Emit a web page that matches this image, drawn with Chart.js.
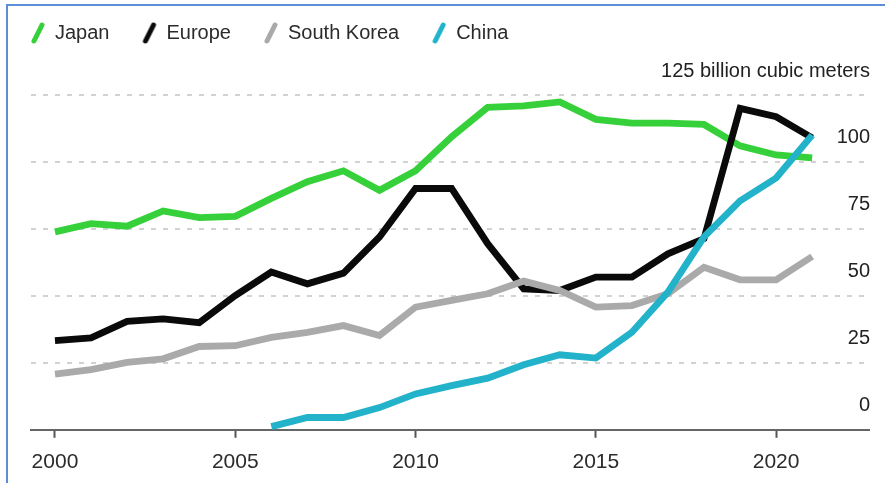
<!DOCTYPE html>
<html>
<head>
<meta charset="utf-8">
<script src="https://cdn.jsdelivr.net/npm/chart.js@4.4.1/dist/chart.umd.min.js"></script>
<style>
  html, body { margin: 0; padding: 0; background: #fff; }
  #wrap { position: relative; width: 885px; height: 483px; overflow: hidden; background: #fff; }
  #frame { position: absolute; left: 6px; top: 4px; width: 900px; height: 500px;
           border-left: 2px solid #5b8ed6; border-top: 2px solid #5b8ed6; pointer-events: none; }
  canvas { display: block; }
</style>
</head>
<body>
<div id="wrap">
  <canvas id="lng" width="885" height="483"></canvas>
  <div id="frame"></div>
</div>
<script>
// LNG imports, billion cubic meters per year
const years = [2000, 2001, 2002, 2003, 2004, 2005, 2006, 2007, 2008, 2009, 2010,
               2011, 2012, 2013, 2014, 2015, 2016, 2017, 2018, 2019, 2020, 2021];

const japan = [73.9, 77.0, 76.0, 81.7, 79.2, 79.7, 86.4, 92.6, 96.7, 89.4, 96.7,
               109.4, 120.4, 120.9, 122.4, 115.9, 114.5, 114.5, 114.0, 106.0, 102.6, 101.5];

const europe = [33.3, 34.3, 40.5, 41.4, 40.0, 50.1, 58.9, 54.5, 58.5, 72.0, 90.1,
                90.1, 69.5, 52.6, 52.0, 57.0, 57.0, 65.7, 71.4, 120.0, 116.9, 109.0];

const southKorea = [20.8, 22.5, 25.2, 26.5, 31.1, 31.4, 34.5, 36.4, 38.9, 35.2, 45.8,
                    48.3, 50.8, 55.5, 52.0, 45.8, 46.4, 50.8, 60.7, 56.0, 56.0, 64.7];

const china = [null, null, null, null, null, null, 1.2, 4.6, 4.6, 8.3, 13.4,
               16.5, 19.3, 24.3, 28.0, 26.8, 36.4, 51.4, 72.0, 85.5, 94.0, 110.0];

const seriesNames = ['Japan', 'Europe', 'South Korea', 'China'];
const seriesColors = ['#36d13a', '#0a0a0a', '#aaaaaa', '#22b2c9'];

const xTickYears = [2000, 2005, 2010, 2015, 2020];
const yTickValues = [0, 25, 50, 75, 100, 125];
const yUnitLabel = '125 billion cubic meters';

const FONT = "'Liberation Sans', Arial, sans-serif";

// slanted stroke used as the legend marker
function strokeMarker(color) {
  const c = document.createElement('canvas');
  c.width = 16; c.height = 24;
  const g = c.getContext('2d');
  g.strokeStyle = color;
  g.lineWidth = 5;
  g.lineCap = 'round';
  g.beginPath();
  g.moveTo(4, 20);
  g.lineTo(12, 4);
  g.stroke();
  return c;
}

const seriesValues = [japan, europe, southKorea, china];
const datasets = seriesNames.map((name, i) => ({
  label: name,
  data: years.map((yr, k) => ({ x: yr, y: seriesValues[i][k] })),
  xAxisID: 'x',
  yAxisID: 'y',
  borderColor: seriesColors[i],
  backgroundColor: seriesColors[i],
  borderWidth: 6.8,
  pointRadius: 0,
  pointHoverRadius: 0,
  pointStyle: strokeMarker(seriesColors[i]),
  tension: 0,
  spanGaps: false,
  order: seriesNames.length - i   // later series drawn on top
}));

new Chart(document.getElementById('lng'), {
  type: 'line',
  data: { datasets },
  options: {
    responsive: false,
    animation: false,
    devicePixelRatio: 1,
    layout: { padding: { left: -2, top: -10, right: 14, bottom: -4 } },
    plugins: {
      tooltip: { enabled: false },
      legend: {
        display: true,
        position: 'top',
        align: 'start',
        labels: {
          usePointStyle: true,
          pointStyleWidth: 14,
          padding: 33,
          color: '#2b2b2b',
          font: { family: FONT, size: 20 },
          sort: (a, b) => a.datasetIndex - b.datasetIndex
        }
      }
    },
    scales: {
      x: {
        type: 'linear',
        min: 1999.335,
        max: 2022.576,
        afterBuildTicks: s => { s.ticks = xTickYears.map(v => ({ value: v })); },
        ticks: {
          color: '#2b2b2b',
          font: { family: FONT, size: 21 },
          padding: 12,
          maxRotation: 0,
          callback: v => String(v)
        },
        grid: {
          drawOnChartArea: false,
          drawTicks: true,
          tickLength: 8,
          tickColor: '#555',
          tickWidth: 2
        },
        border: { display: true, color: '#666', width: 2 }
      },
      xPad: {
        type: 'linear', axis: 'x', position: 'top', display: true,
        ticks: { display: false }, grid: { display: false }, border: { display: false },
        afterFit: s => { s.height = 42; }
      },
      yPad: {
        type: 'linear', axis: 'y', position: 'left', display: true,
        ticks: { display: false }, grid: { display: false }, border: { display: false },
        afterFit: s => { s.width = 33; }
      },
      y: {
        type: 'linear',
        position: 'right',
        min: 0,
        max: 125,
        afterBuildTicks: s => { s.ticks = yTickValues.map(v => ({ value: v })); },
        ticks: {
          mirror: true,
          padding: 1,
          labelOffset: -24,
          color: '#222',
          font: { family: FONT, size: 20 },
          callback: v => (v === 125 ? yUnitLabel : String(v))
        },
        grid: {
          drawTicks: false,
          lineWidth: 2,
          color: ctx => (ctx.tick && ctx.tick.value === 0 ? 'rgba(0,0,0,0)' : '#d2d2d2')
        },
        border: { display: false, dash: [5, 7] }
      }
    }
  }
});
</script>
</body>
</html>
